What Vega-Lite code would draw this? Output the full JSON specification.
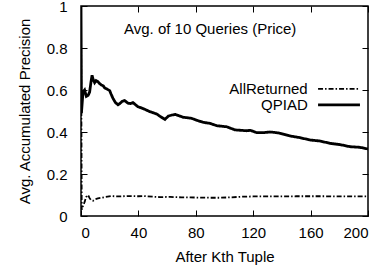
{
  "$schema": "https://vega.github.io/schema/vega-lite/v6.json",
  "width": 287,
  "height": 210,
  "autosize": {"type": "none"},
  "padding": {"left": 81, "top": 6, "right": 17, "bottom": 53},
  "background": "white",
  "config": {
    "view": {"stroke": "black", "strokeWidth": 1.5},
    "font": "Liberation Sans",
    "axis": {
      "domain": false,
      "grid": false,
      "tickColor": "black",
      "tickWidth": 1,
      "labelColor": "black",
      "titleColor": "black",
      "labelFont": "Liberation Sans",
      "titleFont": "Liberation Sans",
      "labelFontSize": 15,
      "titleFontSize": 15,
      "titleFontWeight": "normal"
    }
  },
  "datasets": {
    "curves": [
      {"k": 0, "precision": 1, "method": "QPIAD"},
      {"k": 0.3, "precision": 0.49, "method": "QPIAD"},
      {"k": 1.4, "precision": 0.59, "method": "QPIAD"},
      {"k": 2.5, "precision": 0.6, "method": "QPIAD"},
      {"k": 3.7, "precision": 0.57, "method": "QPIAD"},
      {"k": 5, "precision": 0.575, "method": "QPIAD"},
      {"k": 6, "precision": 0.59, "method": "QPIAD"},
      {"k": 7, "precision": 0.64, "method": "QPIAD"},
      {"k": 7.7, "precision": 0.67, "method": "QPIAD"},
      {"k": 8.5, "precision": 0.65, "method": "QPIAD"},
      {"k": 9.5, "precision": 0.635, "method": "QPIAD"},
      {"k": 10.5, "precision": 0.645, "method": "QPIAD"},
      {"k": 11.8, "precision": 0.64, "method": "QPIAD"},
      {"k": 13, "precision": 0.63, "method": "QPIAD"},
      {"k": 14.2, "precision": 0.624, "method": "QPIAD"},
      {"k": 15.5, "precision": 0.62, "method": "QPIAD"},
      {"k": 16.5, "precision": 0.61, "method": "QPIAD"},
      {"k": 18, "precision": 0.605, "method": "QPIAD"},
      {"k": 20, "precision": 0.597, "method": "QPIAD"},
      {"k": 21, "precision": 0.58, "method": "QPIAD"},
      {"k": 22.3, "precision": 0.56, "method": "QPIAD"},
      {"k": 24, "precision": 0.54, "method": "QPIAD"},
      {"k": 25.8, "precision": 0.53, "method": "QPIAD"},
      {"k": 27, "precision": 0.535, "method": "QPIAD"},
      {"k": 28.5, "precision": 0.545, "method": "QPIAD"},
      {"k": 30.4, "precision": 0.55, "method": "QPIAD"},
      {"k": 32.8, "precision": 0.537, "method": "QPIAD"},
      {"k": 34.5, "precision": 0.535, "method": "QPIAD"},
      {"k": 36.2, "precision": 0.54, "method": "QPIAD"},
      {"k": 38, "precision": 0.53, "method": "QPIAD"},
      {"k": 39.7, "precision": 0.52, "method": "QPIAD"},
      {"k": 42, "precision": 0.515, "method": "QPIAD"},
      {"k": 44.4, "precision": 0.508, "method": "QPIAD"},
      {"k": 48, "precision": 0.497, "method": "QPIAD"},
      {"k": 52.7, "precision": 0.486, "method": "QPIAD"},
      {"k": 55, "precision": 0.475, "method": "QPIAD"},
      {"k": 58.5, "precision": 0.46, "method": "QPIAD"},
      {"k": 60.9, "precision": 0.476, "method": "QPIAD"},
      {"k": 63, "precision": 0.48, "method": "QPIAD"},
      {"k": 65.5, "precision": 0.484, "method": "QPIAD"},
      {"k": 68, "precision": 0.478, "method": "QPIAD"},
      {"k": 71.3, "precision": 0.47, "method": "QPIAD"},
      {"k": 74, "precision": 0.468, "method": "QPIAD"},
      {"k": 77.1, "precision": 0.465, "method": "QPIAD"},
      {"k": 81, "precision": 0.455, "method": "QPIAD"},
      {"k": 85.2, "precision": 0.446, "method": "QPIAD"},
      {"k": 89.9, "precision": 0.441, "method": "QPIAD"},
      {"k": 94.6, "precision": 0.43, "method": "QPIAD"},
      {"k": 101.5, "precision": 0.425, "method": "QPIAD"},
      {"k": 107.3, "precision": 0.41, "method": "QPIAD"},
      {"k": 115.5, "precision": 0.406, "method": "QPIAD"},
      {"k": 118, "precision": 0.408, "method": "QPIAD"},
      {"k": 122.4, "precision": 0.397, "method": "QPIAD"},
      {"k": 127, "precision": 0.397, "method": "QPIAD"},
      {"k": 131.7, "precision": 0.4, "method": "QPIAD"},
      {"k": 135, "precision": 0.398, "method": "QPIAD"},
      {"k": 138.7, "precision": 0.394, "method": "QPIAD"},
      {"k": 145.6, "precision": 0.381, "method": "QPIAD"},
      {"k": 152.6, "precision": 0.373, "method": "QPIAD"},
      {"k": 159.6, "precision": 0.362, "method": "QPIAD"},
      {"k": 166.6, "precision": 0.357, "method": "QPIAD"},
      {"k": 173.5, "precision": 0.346, "method": "QPIAD"},
      {"k": 180.5, "precision": 0.34, "method": "QPIAD"},
      {"k": 187.5, "precision": 0.33, "method": "QPIAD"},
      {"k": 194.4, "precision": 0.327, "method": "QPIAD"},
      {"k": 200, "precision": 0.319, "method": "QPIAD"},
      {"k": 0, "precision": 1, "method": "AllReturned"},
      {"k": 0.5, "precision": 0.03, "method": "AllReturned"},
      {"k": 1.5, "precision": 0.05, "method": "AllReturned"},
      {"k": 2.6, "precision": 0.068, "method": "AllReturned"},
      {"k": 3.5, "precision": 0.09, "method": "AllReturned"},
      {"k": 4.9, "precision": 0.1, "method": "AllReturned"},
      {"k": 6, "precision": 0.085, "method": "AllReturned"},
      {"k": 7, "precision": 0.075, "method": "AllReturned"},
      {"k": 8.4, "precision": 0.073, "method": "AllReturned"},
      {"k": 10, "precision": 0.08, "method": "AllReturned"},
      {"k": 11.8, "precision": 0.084, "method": "AllReturned"},
      {"k": 15, "precision": 0.088, "method": "AllReturned"},
      {"k": 21, "precision": 0.095, "method": "AllReturned"},
      {"k": 26, "precision": 0.093, "method": "AllReturned"},
      {"k": 32.8, "precision": 0.095, "method": "AllReturned"},
      {"k": 40, "precision": 0.094, "method": "AllReturned"},
      {"k": 44, "precision": 0.095, "method": "AllReturned"},
      {"k": 50, "precision": 0.092, "method": "AllReturned"},
      {"k": 55, "precision": 0.09, "method": "AllReturned"},
      {"k": 62, "precision": 0.091, "method": "AllReturned"},
      {"k": 70, "precision": 0.089, "method": "AllReturned"},
      {"k": 80, "precision": 0.088, "method": "AllReturned"},
      {"k": 90, "precision": 0.087, "method": "AllReturned"},
      {"k": 97, "precision": 0.087, "method": "AllReturned"},
      {"k": 105, "precision": 0.089, "method": "AllReturned"},
      {"k": 112, "precision": 0.092, "method": "AllReturned"},
      {"k": 120, "precision": 0.093, "method": "AllReturned"},
      {"k": 130, "precision": 0.093, "method": "AllReturned"},
      {"k": 140, "precision": 0.093, "method": "AllReturned"},
      {"k": 150, "precision": 0.094, "method": "AllReturned"},
      {"k": 160, "precision": 0.094, "method": "AllReturned"},
      {"k": 170, "precision": 0.094, "method": "AllReturned"},
      {"k": 180, "precision": 0.093, "method": "AllReturned"},
      {"k": 190, "precision": 0.093, "method": "AllReturned"},
      {"k": 200, "precision": 0.093, "method": "AllReturned"}
    ],
    "legend": [
      {"method": "AllReturned", "k": 158, "k1": 165.2, "k2": 194.4, "precision": 0.605},
      {"method": "QPIAD", "k": 158, "k1": 165.2, "k2": 194.4, "precision": 0.529}
    ]
  },
  "layer": [
    {
      "data": {"name": "curves"},
      "mark": {"type": "line", "color": "black", "clip": true},
      "encoding": {
        "x": {
          "field": "k", "type": "quantitative",
          "scale": {"domain": [0, 200], "nice": false},
          "axis": {"orient": "bottom", "title": "After Kth Tuple", "values": [0, 40, 80, 120, 160, 200], "tickSize": -6, "labelPadding": 15, "titlePadding": 9}
        },
        "y": {
          "field": "precision", "type": "quantitative",
          "scale": {"domain": [0, 1], "nice": false},
          "axis": {"orient": "left", "title": "Avg. Accumulated Precision", "values": [0, 0.2, 0.4, 0.6, 0.8, 1], "format": "~g", "tickSize": -6, "labelPadding": 20, "titlePadding": 14}
        },
        "detail": {"field": "method"},
        "strokeDash": {"field": "method", "type": "nominal", "scale": {"domain": ["AllReturned", "QPIAD"], "range": [[5, 2, 1.5, 2], [1, 0]]}, "legend": null},
        "strokeWidth": {"field": "method", "type": "nominal", "scale": {"domain": ["AllReturned", "QPIAD"], "range": [1.8, 2.8]}, "legend": null}
      }
    },
    {
      "data": {"name": "legend"},
      "mark": {"type": "rule", "color": "black"},
      "encoding": {
        "x": {"field": "k1", "type": "quantitative", "axis": {"orient": "top", "title": null, "labels": false, "values": [0, 40, 80, 120, 160, 200], "tickSize": -6}},
        "x2": {"field": "k2"},
        "y": {"field": "precision", "type": "quantitative", "axis": {"orient": "right", "title": null, "labels": false, "values": [0, 0.2, 0.4, 0.6, 0.8, 1], "tickSize": -6}},
        "strokeDash": {"field": "method", "type": "nominal", "legend": null},
        "strokeWidth": {"field": "method", "type": "nominal", "legend": null}
      }
    },
    {
      "data": {"name": "legend"},
      "mark": {"type": "text", "align": "right", "baseline": "middle", "fontSize": 15, "font": "Liberation Sans", "color": "black"},
      "encoding": {
        "x": {"field": "k", "type": "quantitative", "axis": null},
        "y": {"field": "precision", "type": "quantitative", "axis": null},
        "text": {"field": "method"}
      }
    },
    {
      "data": {"values": [{"label": "Avg. of 10 Queries (Price)", "k": 90, "precision": 0.889}]},
      "mark": {"type": "text", "align": "center", "baseline": "middle", "fontSize": 15, "font": "Liberation Sans", "color": "black"},
      "encoding": {
        "x": {"field": "k", "type": "quantitative", "axis": null},
        "y": {"field": "precision", "type": "quantitative", "axis": null},
        "text": {"field": "label"}
      }
    }
  ],
  "resolve": {"axis": {"x": "independent", "y": "independent"}}
}
